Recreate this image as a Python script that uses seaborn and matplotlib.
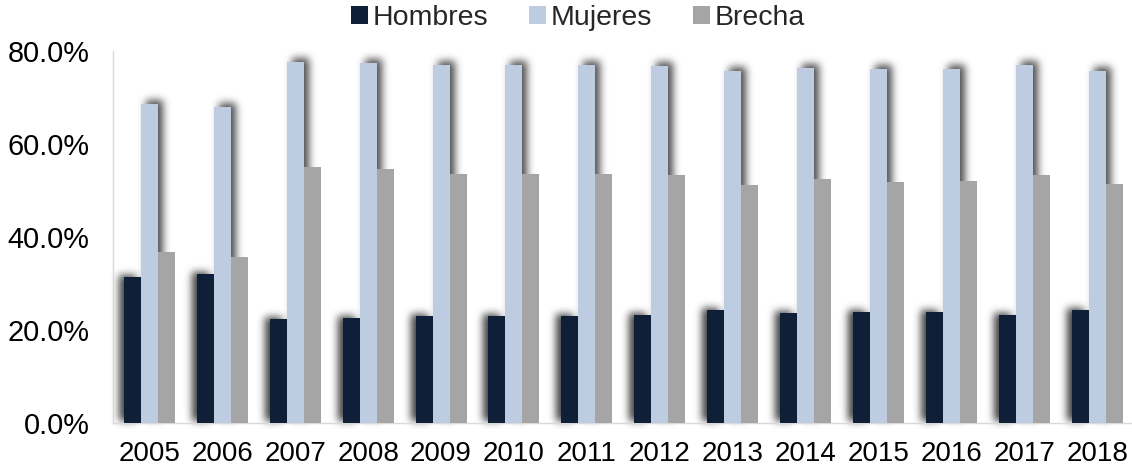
import numpy as np
import pandas as pd
import matplotlib
matplotlib.use("Agg")
import matplotlib.pyplot as plt
from matplotlib.patches import Rectangle, Patch
from matplotlib.ticker import PercentFormatter, FixedLocator
import seaborn as sns

# ---- data (percent) ----
years = ["2005", "2006", "2007", "2008", "2009", "2010", "2011",
         "2012", "2013", "2014", "2015", "2016", "2017", "2018"]
hombres = [31.5, 32.1, 22.4, 22.7, 23.1, 23.1, 23.1,
           23.3, 24.3, 23.7, 24.0, 24.0, 23.3, 24.3]
mujeres = [68.6, 67.9, 77.6, 77.4, 76.9, 76.9, 76.9,
           76.7, 75.6, 76.3, 76.0, 76.1, 76.9, 75.7]
brecha = [36.8, 35.7, 55.0, 54.6, 53.6, 53.6, 53.6,
          53.3, 51.2, 52.5, 51.9, 52.0, 53.3, 51.3]
series_names = ["Hombres", "Mujeres", "Brecha"]

# ---- styling ----
colors = ["#101F38", "#BDCCE0", "#A5A5A5"]
axis_gray = "#D9D9D9"

sns.set_style("white")
plt.rcParams["font.family"] = ["Liberation Sans", "DejaVu Sans"]

df = pd.DataFrame({
    "year": years * 3,
    "value": hombres + mujeres + brecha,
    "serie": [s for s, vals in zip(series_names, [hombres, mujeres, brecha])
              for _ in vals],
})


class SoftShadow:
    """Agg filter: blurred, offset dark copy of an artist's footprint."""

    def __init__(self, dx, dy, sigma, alpha, color=(0.0, 0.0, 0.0)):
        self.dx, self.dy, self.sigma = dx, dy, sigma
        self.alpha, self.color = alpha, color

    def __call__(self, im, dpi):
        s = self.sigma * dpi / 100.0
        r = max(1, int(3 * s))
        pad = r + int(max(abs(self.dx), abs(self.dy)) * dpi / 100.0) + 2
        a = np.pad(np.asarray(im, dtype=float)[..., 3], pad)
        k = np.exp(-0.5 * (np.arange(-r, r + 1) / s) ** 2)
        k /= k.sum()
        a = np.apply_along_axis(lambda m: np.convolve(m, k, mode="same"), 0, a)
        a = np.apply_along_axis(lambda m: np.convolve(m, k, mode="same"), 1, a)
        a = np.roll(a, int(round(self.dx * dpi / 100.0)), axis=1)
        a = np.roll(a, -int(round(self.dy * dpi / 100.0)), axis=0)
        out = np.zeros(a.shape + (4,), dtype=float)
        out[..., :3] = self.color
        out[..., 3] = np.clip(a * self.alpha, 0, 1)
        return out, -pad, -pad


fig = plt.figure(figsize=(11.32, 4.70), dpi=100)
ax = fig.add_axes([113 / 1132, 46.7 / 470, 1020.6 / 1132, 372.6 / 470])

sns.barplot(data=df, x="year", y="value", hue="serie", order=years,
            hue_order=series_names, palette=colors, width=0.7, gap=0,
            saturation=1, linewidth=0, ax=ax, zorder=3)
ax.legend_.remove()

# soft drop shadows behind the Hombres and Mujeres bars
shadow_specs = {0: SoftShadow(-5, 2, 4.0, 0.75), 1: SoftShadow(5, 4, 4.0, 0.7)}
for idx, filt in shadow_specs.items():
    for bar in ax.containers[idx]:
        sh = Rectangle(bar.get_xy(), bar.get_width(), bar.get_height(),
                       facecolor="black", linewidth=0, zorder=2)
        sh.set_agg_filter(filt)
        ax.add_patch(sh)

ax.set_xlim(-0.5, len(years) - 0.5)
ax.set_ylim(0, 80)
ax.yaxis.set_major_locator(FixedLocator([0, 20, 40, 60, 80]))
ax.yaxis.set_major_formatter(PercentFormatter(xmax=100, decimals=1))
ax.set_xlabel("")
ax.set_ylabel("")

for side in ["top", "right"]:
    ax.spines[side].set_visible(False)
for side in ["left", "bottom"]:
    ax.spines[side].set_color(axis_gray)
    ax.spines[side].set_linewidth(1.0)

ax.xaxis.set_minor_locator(FixedLocator(np.arange(-0.5, len(years), 1.0)))
ax.tick_params(axis="x", which="major", length=0, pad=13,
               labelsize=20, labelcolor="black")
ax.tick_params(axis="x", which="minor", length=8, width=1.0,
               color=axis_gray, direction="out")
ax.tick_params(axis="y", which="major", length=8, width=1.0,
               color=axis_gray, direction="out", pad=9,
               labelsize=20.8, labelcolor="black")
ax.grid(False)

handles = [Patch(facecolor=c, edgecolor="none") for c in colors]
fig.legend(handles, series_names, loc="center",
           bbox_to_anchor=(578 / 1132, 1 - 18 / 470), ncol=3, frameon=False,
           fontsize=20.5, handlelength=0.6, handleheight=0.6,
           handletextpad=0.15, columnspacing=1.45, borderaxespad=0)

fig.savefig("out.png", dpi=100)
